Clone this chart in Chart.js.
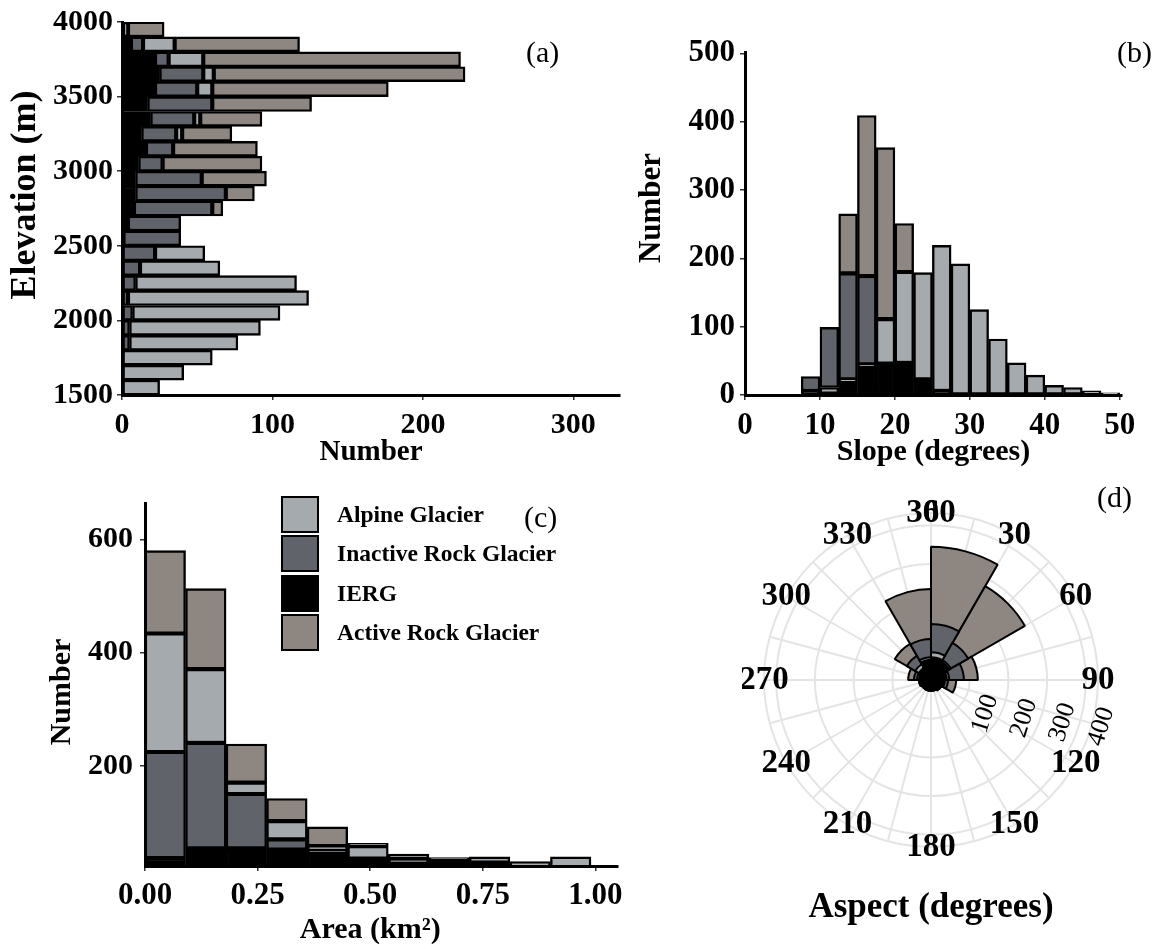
<!DOCTYPE html>
<html>
<head>
<meta charset="utf-8">
<script src="https://cdn.jsdelivr.net/npm/chart.js@4.4.1/dist/chart.umd.min.js"></script>
<style>
  body { margin: 0; background: #fff; }
  #fig { position: relative; width: 1164px; height: 949px; overflow: hidden; font-family: 'Liberation Serif', serif; color: #000; }
  #fig canvas { position: absolute; }
  .tag { position: absolute; font-size: 30px; line-height: 30px; }
  .key { position: absolute; left: 281px; width: 34px; height: 33px; border: 2px solid #000; }
  .keytxt { position: absolute; left: 337px; font-size: 23.5px; font-weight: bold; line-height: 37px; white-space: nowrap; }
</style>
</head>
<body>
<div id="fig">
  <canvas id="elev" width="640" height="470" style="left:0;top:0"></canvas>
  <canvas id="slope" width="534" height="470" style="left:630px;top:0"></canvas>
  <canvas id="area" width="640" height="479" style="left:0;top:470px"></canvas>
  <canvas id="aspect" width="422" height="479" style="left:742px;top:470px"></canvas>
  <div class="tag" style="left:526px;top:37px">(a)</div>
  <div class="tag" style="left:1117px;top:37px">(b)</div>
  <div class="tag" style="left:524px;top:502px">(c)</div>
  <div class="tag" style="left:1097px;top:482px">(d)</div>
  <div id="legend"></div>
</div>

<script>
// ---------------- data ----------------

// (a) elevation, 100 m bands (band centres)
const elevBins     = [1550, 1650, 1750, 1850, 1950, 2050, 2150, 2250, 2350, 2450, 2550, 2650, 2750,
                      2850, 2950, 3050, 3150, 3250, 3350, 3450, 3550, 3650, 3750, 3850, 3950];
const elevIERG     = [0, 0, 0, 0, 0, 0, 0, 0, 0, 0, 1, 4, 8, 9, 9, 11, 16, 13, 19, 17, 22, 25, 22, 6, 1];
const elevInactive = [0, 0, 0, 5, 5, 7, 4, 9, 12, 22, 38, 35, 52, 60, 44, 16, 18, 23, 29, 43, 28, 29, 9, 8, 0];
const elevAlpine   = [25, 41, 60, 72, 87, 98, 120, 107, 53, 33, 0, 0, 0, 0, 0, 0, 0, 4, 4, 0, 10, 7, 23, 21, 3];
const elevActive   = [0, 0, 0, 0, 0, 0, 0, 0, 0, 0, 0, 0, 7, 19, 43, 66, 56, 33, 41, 66, 117, 167, 171, 83, 24];
const elevTicks      = [1500, 2000, 2500, 3000, 3500, 4000];
const elevCountTicks = [0, 100, 200, 300];

// (b) slope, 2.5 degree bins (bin centres)
const slopeBins     = [8.75, 11.25, 13.75, 16.25, 18.75, 21.25, 23.75, 26.25, 28.75,
                       31.25, 33.75, 36.25, 38.75, 41.25, 43.75, 46.25, 48.75];
const slopeIERG     = [6, 2, 20, 42, 46, 47, 23, 6, 0, 0, 0, 0, 0, 0, 0, 0, 0];
const slopeAlpine   = [0, 9, 3, 3, 65, 133, 156, 213, 192, 125, 82, 47, 29, 14, 11, 6, 3];
const slopeInactive = [21, 88, 155, 129, 0, 0, 0, 0, 0, 0, 0, 0, 0, 0, 0, 0, 0];
const slopeActive   = [0, 0, 87, 235, 251, 71, 0, 0, 0, 0, 0, 0, 0, 0, 0, 0, 0];
const slopeTicks      = [0, 10, 20, 30, 40, 50];
const slopeCountTicks = [0, 100, 200, 300, 400, 500];

// (c) area, 0.09 km2 bins (bin centres)
const areaBins     = [0.045, 0.135, 0.225, 0.315, 0.405, 0.495, 0.585, 0.675, 0.765, 0.855, 0.945];
const areaIERG     = [38, 55, 55, 53, 47, 37, 29, 36, 30, 22, 18];
const areaInactive = [187, 186, 96, 18, 5, 0, 7, 3, 0, 0, 0];
const areaAlpine   = [209, 130, 20, 32, 7, 22, 9, 0, 10, 10, 22];
const areaActive   = [146, 142, 68, 40, 34, 5, 0, 0, 0, 0, 0];
const areaTicks      = [0, 0.25, 0.5, 0.75, 1];
const areaCountTicks = [200, 400, 600];

// (d) aspect, 30 degree sectors starting at north
const aspectLabels   = ['0', '30', '60', '90', '120', '150', '180', '210', '240', '270', '300', '330'];
const aspectIERG     = [59, 54, 41, 34, 25, 22, 22, 22, 24, 31, 36, 52];
const aspectAlpine   = [13, 5, 6, 2, 3, 3, 3, 3, 3, 5, 11, 7];
const aspectInactive = [73, 52, 38, 8, 3, 3, 3, 3, 4, 8, 25, 47];
const aspectActive   = [199, 169, 36, 21, 0, 0, 0, 0, 0, 15, 36, 129];
const aspectTicks    = [0, 30, 60, 90, 120, 150, 180, 210, 240, 270, 300, 330, 360];
const radialTicks    = [100, 200, 300, 400];

const legendOrder = ['Alpine Glacier', 'Inactive Rock Glacier', 'IERG', 'Active Rock Glacier'];

// ---------------- styling ----------------

const colours = {
  'Alpine Glacier': '#a4aaad',
  'Inactive Rock Glacier': '#60636a',
  'IERG': '#000000',
  'Active Rock Glacier': '#8e8680'
};

Chart.defaults.font.family = "'Liberation Serif', serif";
Chart.defaults.color = '#000';

function bold(size) { return { size: size, weight: 'bold' }; }

// linear axis with fixed tick positions and a thick black axis line
function axis(tickList, opts) {
  return Object.assign({
    type: 'linear',
    stacked: true,
    offset: false,
    grid: { display: true, offset: false, drawOnChartArea: false, drawTicks: true, tickLength: 5, color: '#333', lineWidth: 1.5 },
    border: { display: true, color: '#000', width: 3, z: 1 },
    afterBuildTicks: s => { s.ticks = tickList.map(v => ({ value: v })); }
  }, opts);
}

function pairs(bins, vals, horizontal) {
  return bins.map((b, i) => horizontal ? { x: vals[i], y: b } : { x: b, y: vals[i] });
}

function barSets(bins, series, horizontal) {
  return series.map(s => ({
    label: s[0],
    data: pairs(bins, s[1], horizontal),
    backgroundColor: colours[s[0]],
    borderColor: '#000',
    borderWidth: 2.4,
    borderSkipped: false,
    barPercentage: 1,
    categoryPercentage: 1
  }));
}

const plain = v => String(v);

const common = {
  responsive: false,
  animation: false,
  events: [],
  plugins: { legend: { display: false }, tooltip: { enabled: false } }
};

// ---------------- (a) elevation ----------------

new Chart(document.getElementById('elev'), {
  type: 'bar',
  data: {
    datasets: barSets(elevBins, [
      ['IERG', elevIERG],
      ['Inactive Rock Glacier', elevInactive],
      ['Alpine Glacier', elevAlpine],
      ['Active Rock Glacier', elevActive]
    ], true)
  },
  options: Object.assign({}, common, {
    indexAxis: 'y',
    layout: { padding: { top: 20, right: 20, left: 0, bottom: 0 } },
    scales: {
      x: axis(elevCountTicks, {
        min: 0, max: 331,
        ticks: { font: bold(30), padding: 7, callback: plain },
        title: { display: true, text: 'Number', font: bold(29), padding: { top: 0, bottom: 0 } },
        afterFit: s => { s.height = 75; }
      }),
      y: axis(elevTicks, {
        min: 1500, max: 4000,
        ticks: { font: bold(30), padding: 4, callback: plain },
        // leading spaces lift the title a little above the axis centre
        title: { display: true, text: '   Elevation (m)', font: bold(36), padding: { top: 4, bottom: 0 } },
        afterFit: s => { s.width = 122; }
      })
    }
  })
});

// ---------------- (b) slope ----------------

new Chart(document.getElementById('slope'), {
  type: 'bar',
  data: {
    datasets: barSets(slopeBins, [
      ['IERG', slopeIERG],
      ['Alpine Glacier', slopeAlpine],
      ['Inactive Rock Glacier', slopeInactive],
      ['Active Rock Glacier', slopeActive]
    ], false)
  },
  options: Object.assign({}, common, {
    layout: { padding: { top: 52, right: 42, left: 0, bottom: 0 } },
    scales: {
      x: axis(slopeTicks, {
        min: 0, max: 50.3,
        ticks: { font: bold(31), padding: 7, callback: plain },
        title: { display: true, text: 'Slope (degrees)', font: bold(30), padding: { top: 0, bottom: 0 } },
        afterFit: s => { s.height = 75; }
      }),
      y: axis(slopeCountTicks, {
        min: 0, max: 502,
        ticks: { font: bold(31), padding: 5, callback: plain },
        title: { display: true, text: '    Number', font: bold(31), padding: { top: 3, bottom: 0 } },
        afterFit: s => { s.width = 115; }
      })
    }
  })
});

// ---------------- (c) area ----------------

const areaChart = new Chart(document.getElementById('area'), {
  type: 'bar',
  data: {
    datasets: barSets(areaBins, [
      ['IERG', areaIERG],
      ['Inactive Rock Glacier', areaInactive],
      ['Alpine Glacier', areaAlpine],
      ['Active Rock Glacier', areaActive]
    ], false).map(d => Object.assign(d, { clip: { left: 5, top: 5, right: 5, bottom: 0 } }))
  },
  options: Object.assign({}, common, {
    layout: { padding: { top: 33, right: 22, left: 0, bottom: 0 } },
    scales: {
      x: axis(areaTicks, {
        min: 0, max: 1.05,
        ticks: { font: bold(31), padding: 6, callback: v => v.toFixed(2) },
        title: { display: true, text: 'Area (km²)   ', font: bold(30), padding: { top: 0, bottom: 1 } },
        afterFit: s => { s.height = 83; }
      }),
      y: axis(areaCountTicks, {
        min: 24, max: 664,
        ticks: { font: bold(30), padding: 7, callback: plain },
        title: { display: true, text: 'Number  ', font: bold(30), padding: { top: 44, bottom: 0 } },
        afterFit: s => { s.width = 145; }
      })
    }
  })
});

// legend for the class colours, drawn beside panel (c)
const legendBox = document.getElementById('legend');
legendOrder.forEach((name, i) => {
  const ds = areaChart.data.datasets.find(d => d.label === name);
  const top = 496 + i * 39.3;
  const key = document.createElement('div');
  key.className = 'key';
  key.style.top = top + 'px';
  key.style.background = ds.backgroundColor;
  const txt = document.createElement('div');
  txt.className = 'keytxt';
  txt.style.top = top + 'px';
  txt.textContent = name;
  legendBox.appendChild(key);
  legendBox.appendChild(txt);
});

// ---------------- (d) aspect rose ----------------

// running totals so each ring sits on the one inside it
function stackUp(list) {
  let run = list[0].map(() => 0);
  return list.map(s => (run = run.map((v, i) => v + s[i])));
}
const roseRings = stackUp([aspectIERG, aspectAlpine, aspectInactive, aspectActive]);
const roseNames = ['IERG', 'Alpine Glacier', 'Inactive Rock Glacier', 'Active Rock Glacier'];

const roseDecor = {
  id: 'roseDecor',
  beforeDatasetsDraw(chart) {
    const r = chart.scales.r, ctx = chart.ctx;
    ctx.save();
    ctx.strokeStyle = '#e4e4e4';
    ctx.lineWidth = 2;
    for (let a = 0; a < 360; a += 15) {
      const t = a * Math.PI / 180;
      ctx.beginPath();
      ctx.moveTo(r.xCenter, r.yCenter);
      ctx.lineTo(r.xCenter + Math.sin(t) * r.drawingArea, r.yCenter - Math.cos(t) * r.drawingArea);
      ctx.stroke();
    }
    ctx.restore();
  },
  afterDraw(chart) {
    const r = chart.scales.r, ctx = chart.ctx;
    ctx.save();
    ctx.fillStyle = '#000';
    ctx.textAlign = 'center';
    ctx.textBaseline = 'middle';
    ctx.font = "bold 33px 'Liberation Serif'";
    aspectTicks.forEach(a => {
      const t = a * Math.PI / 180;
      ctx.fillText(String(a), r.xCenter + Math.sin(t) * r.drawingArea, r.yCenter - Math.cos(t) * r.drawingArea);
    });
    ctx.font = "26px 'Liberation Serif'";
    radialTicks.forEach(v => {
      const d = r.getDistanceFromCenterForValue(v);
      ctx.save();
      ctx.translate(r.xCenter + d + 15.5, r.yCenter + 29.7 + 0.11 * d);
      ctx.rotate(-72.3 * Math.PI / 180);
      ctx.fillText(String(v), 0, 0);
      ctx.restore();
    });
    ctx.restore();
  }
};

new Chart(document.getElementById('aspect'), {
  type: 'polarArea',
  data: {
    labels: aspectLabels,
    datasets: roseRings.map((ring, i) => ({
      label: roseNames[i],
      data: ring,
      backgroundColor: colours[roseNames[i]],
      borderColor: '#000',
      borderWidth: 2
    }))
  },
  options: Object.assign({}, common, {
    layout: { padding: { top: 43, right: 66, left: 22, bottom: 0 } },
    plugins: {
      legend: { display: false },
      tooltip: { enabled: false },
      title: { display: true, position: 'bottom', text: 'Aspect (degrees)', font: bold(35), padding: { top: 40, bottom: 20 } }
    },
    scales: {
      r: {
        min: 0, max: 431.5,
        ticks: { display: false, stepSize: 100 },
        grid: { circular: true, color: '#e4e4e4', lineWidth: 2 },
        angleLines: { display: false },
        pointLabels: { display: false }
      }
    }
  }),
  plugins: [roseDecor]
});
</script>
</body>
</html>
